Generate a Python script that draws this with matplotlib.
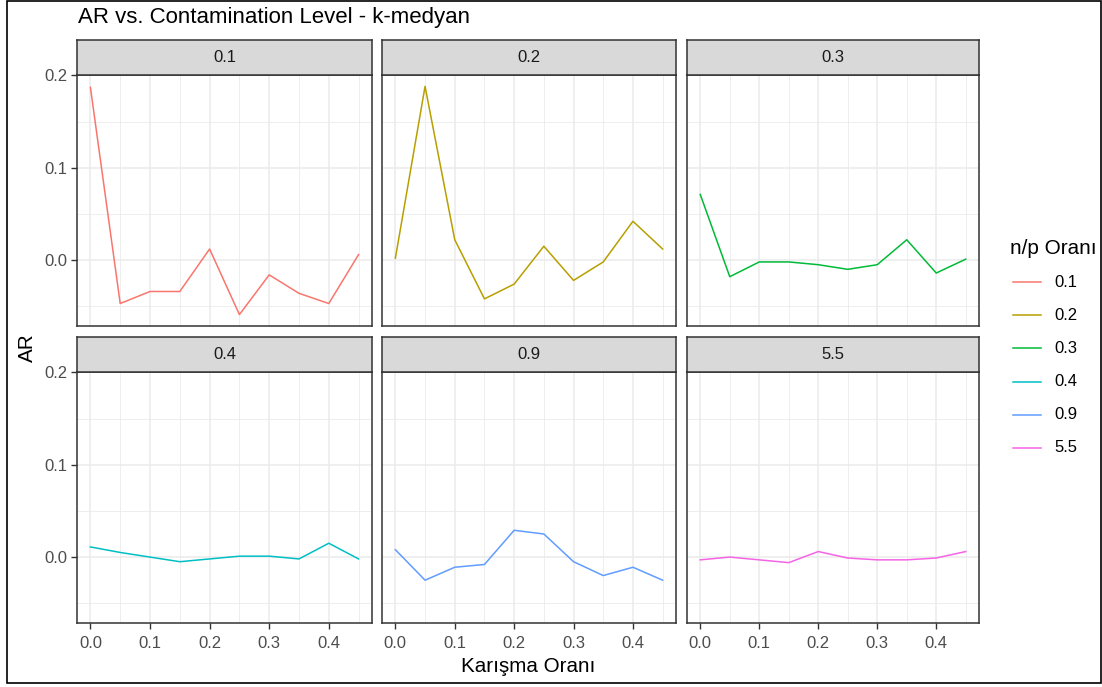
import matplotlib
matplotlib.use("Agg")
import matplotlib.pyplot as plt
from matplotlib.lines import Line2D
from matplotlib.patches import Rectangle
import numpy as np

plt.rcParams["font.family"] = ["Liberation Sans", "DejaVu Sans"]

# ---- data ----
x_vals = [0.0, 0.05, 0.10, 0.15, 0.20, 0.25, 0.30, 0.35, 0.40, 0.45]
groups = ["0.1", "0.2", "0.3", "0.4", "0.9", "5.5"]
ar_01 = [0.187, -0.047, -0.034, -0.034, 0.012, -0.059, -0.016, -0.036, -0.047, 0.006]
ar_02 = [0.002, 0.188, 0.022, -0.042, -0.026, 0.015, -0.022, -0.002, 0.042, 0.012]
ar_03 = [0.071, -0.018, -0.002, -0.002, -0.005, -0.010, -0.005, 0.022, -0.014, 0.001]
ar_04 = [0.011, 0.005, 0.000, -0.005, -0.002, 0.001, 0.001, -0.002, 0.015, -0.002]
ar_09 = [0.008, -0.025, -0.011, -0.008, 0.029, 0.025, -0.005, -0.020, -0.011, -0.025]
ar_55 = [-0.003, 0.000, -0.003, -0.006, 0.006, -0.001, -0.003, -0.003, -0.001, 0.006]
series = [ar_01, ar_02, ar_03, ar_04, ar_09, ar_55]
colors = ["#F8766D", "#B79F00", "#00BA38", "#00BFC4", "#619CFF", "#F564E3"]
x_ticks = [0.0, 0.1, 0.2, 0.3, 0.4]
y_ticks = [0.0, 0.1, 0.2]

title = "AR vs. Contamination Level - k-medyan"
xlabel = "Karışma Oranı"
ylabel = "AR"
legend_title = "n/p Oranı"

W, H = 1102, 687
fig = plt.figure(figsize=(W / 100, H / 100), dpi=100)
fig.patch.set_facecolor("white")
renderer = fig.canvas.get_renderer()


def fit_size(text, target_px, base=10.0):
    t = fig.text(0, 0, text, fontsize=base)
    w = t.get_window_extent(renderer=renderer).width
    t.remove()
    return base * target_px / w


def fx(px):
    return px / W


def fy(py):
    return 1 - py / H


tick_fs = fit_size("0.0", 23)
title_fs = fit_size(title, 394)
lab_fs = fit_size(xlabel, 135)
leg_title_fs = fit_size(legend_title, 87)

col_x = [(77, 372), (382, 676), (687, 979)]
row_y = [(40, 75, 326), (337, 372, 623)]  # strip top, panel top, panel bottom

all_vals = np.concatenate([np.array(s) for s in series])
ymin, ymax = all_vals.min(), all_vals.max()
pad = 0.05 * (ymax - ymin)
ylim = (ymin - pad, ymax + pad)
xpad = 0.05 * (max(x_vals) - min(x_vals))
xlim = (min(x_vals) - xpad, max(x_vals) + xpad)

tick_color = "#4D4D4D"

for i, (g, s, c) in enumerate(zip(groups, series, colors)):
    r, k = divmod(i, 3)
    x0, x1 = col_x[k]
    st, pt, pb = row_y[r]
    ax = fig.add_axes([fx(x0), fy(pb), fx(x1) - fx(x0), fy(pt) - fy(pb)])
    ax.plot(x_vals, s, color=c, lw=1.1, solid_joinstyle="round")
    ax.set_xlim(*xlim)
    ax.set_ylim(*ylim)
    ax.set_xticks(x_ticks)
    ax.set_yticks(y_ticks)
    ax.set_xticks([0.05, 0.15, 0.25, 0.35, 0.45], minor=True)
    ax.set_yticks([-0.05, 0.05, 0.15], minor=True)
    ax.grid(which="major", color="#EBEBEB", lw=1.1)
    ax.grid(which="minor", color="#EBEBEB", lw=0.6)
    ax.set_axisbelow(True)
    for sp in ax.spines.values():
        sp.set_color("#333333")
        sp.set_linewidth(1.1)
    ax.tick_params(which="minor", length=0)
    ax.tick_params(which="major", length=4, width=1.0, color="#333333",
                   labelcolor=tick_color, labelsize=tick_fs, pad=3)
    ax.tick_params(axis="x", which="major", pad=5.5)
    ax.set_xticklabels([f"{t:.1f}" for t in x_ticks])
    ax.set_yticklabels([f"{t:.1f}" for t in y_ticks])
    if k != 0:
        ax.tick_params(axis="y", labelleft=False, length=0)
    if r != 1:
        ax.tick_params(axis="x", labelbottom=False, length=0)
    sax = fig.add_axes([fx(x0), fy(pt), fx(x1) - fx(x0), fy(st) - fy(pt)])
    sax.set_facecolor("#D9D9D9")
    sax.set_xticks([])
    sax.set_yticks([])
    for sp in sax.spines.values():
        sp.set_color("#333333")
        sp.set_linewidth(1.1)
    sax.text(0.5, 0.5, g, ha="center", va="center", fontsize=tick_fs,
             color="#1A1A1A", transform=sax.transAxes)

fig.text(fx(78), fy(17), title, ha="left", va="center", fontsize=title_fs, color="black")
fig.text(fx(528), fy(666), xlabel, ha="center", va="center", fontsize=lab_fs, color="black")
fig.text(fx(27), fy(348), ylabel, ha="center", va="center", rotation=90,
         fontsize=lab_fs, color="black")

fig.text(fx(1010), fy(248), legend_title, ha="left", va="center",
         fontsize=leg_title_fs, color="black")
for j, (g, c) in enumerate(zip(groups, colors)):
    yy = fy(282 + j * 33.2)
    fig.add_artist(Line2D([fx(1013), fx(1041)], [yy, yy], color=c, lw=1.1,
                          transform=fig.transFigure))
    fig.text(fx(1054), yy, g, ha="left", va="center", fontsize=tick_fs, color="black")

fig.add_artist(Rectangle((fx(7), fy(683)), fx(1101) - fx(7), fy(1) - fy(683),
                         transform=fig.transFigure, fill=False, edgecolor="black", lw=1.2))

fig.savefig("out.png", dpi=100)
